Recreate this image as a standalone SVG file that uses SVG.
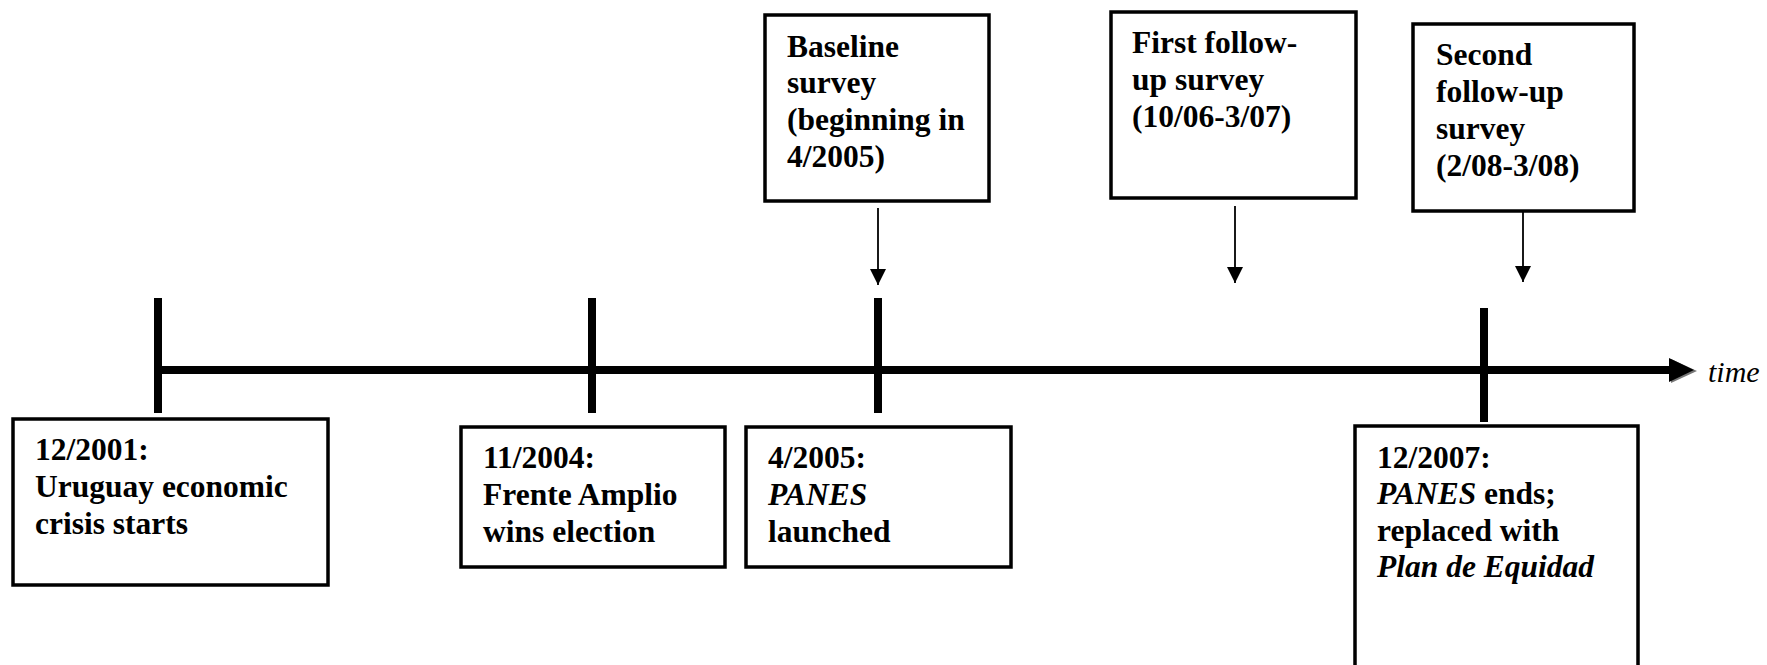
<svg xmlns="http://www.w3.org/2000/svg" width="1767" height="665" viewBox="0 0 1767 665">
<style>
  .box { fill: #fff; stroke: #000; stroke-width: 3.5; }
  .t { font-family: "Liberation Serif", "Times New Roman", serif; font-size: 31.5px; font-weight: bold; fill: #000; }
  .i { font-style: italic; }
  .tick { stroke: #000; stroke-width: 8; }
  .arr { stroke: #000; stroke-width: 1.8; fill: none; }
  .time { font-family: "Liberation Serif", "Times New Roman", serif; font-size: 30px; font-style: italic; fill: #000; }
</style>
<defs>
  <marker id="ah" markerUnits="userSpaceOnUse" markerWidth="18" markerHeight="18" refX="16" refY="8" orient="auto">
    <path d="M0,0 L16,8 L0,16 Z" fill="#000"/>
  </marker>
</defs>
<rect width="1767" height="665" fill="#fff"/>

<g id="connectors">
  <line x1="158" y1="370" x2="1672" y2="370" stroke="#000" stroke-width="8"/>
  <polygon points="1671,359 1697,371 1671,383" fill="#777"/>
  <polygon points="1669,358 1694,370 1669,382" fill="#000"/>
  <line class="tick" x1="158" y1="298" x2="158" y2="413"/>
  <line class="tick" x1="592" y1="298" x2="592" y2="413"/>
  <line class="tick" x1="878" y1="298" x2="878" y2="413"/>
  <line class="tick" x1="1484" y1="308" x2="1484" y2="422"/>
  <line class="arr" x1="878" y1="208" x2="878" y2="285" marker-end="url(#ah)"/>
  <line class="arr" x1="1235" y1="206" x2="1235" y2="283" marker-end="url(#ah)"/>
  <line class="arr" x1="1523" y1="206" x2="1523" y2="282" marker-end="url(#ah)"/>
</g>
<text class="time" x="1708" y="382">time</text>

<g id="n2001">
  <rect class="box" x="13" y="419" width="315" height="166"/>
  <text class="t" x="35" y="460">12/2001:</text>
  <text class="t" x="35" y="497">Uruguay economic</text>
  <text class="t" x="35" y="534">crisis starts</text>
</g>

<g id="n2004">
  <rect class="box" x="461" y="427" width="264" height="140"/>
  <text class="t" x="483" y="468">11/2004:</text>
  <text class="t" x="483" y="505">Frente Amplio</text>
  <text class="t" x="483" y="542">wins election</text>
</g>

<g id="n2005">
  <rect class="box" x="746" y="427" width="265" height="140"/>
  <text class="t" x="768" y="468">4/2005:</text>
  <text class="t i" x="768" y="505">PANES</text>
  <text class="t" x="768" y="542">launched</text>
</g>

<g id="n2007">
  <rect class="box" x="1355" y="426" width="283" height="260"/>
  <text class="t" x="1377" y="468">12/2007:</text>
  <text class="t" x="1377" y="504"><tspan class="i">PANES</tspan> ends;</text>
  <text class="t" x="1377" y="541">replaced with</text>
  <text class="t i" x="1377" y="577">Plan de Equidad</text>
</g>

<g id="baseline">
  <rect class="box" x="765" y="15" width="224" height="186"/>
  <text class="t" x="787" y="57">Baseline</text>
  <text class="t" x="787" y="93">survey</text>
  <text class="t" x="787" y="130">(beginning in</text>
  <text class="t" x="787" y="167">4/2005)</text>
</g>

<g id="followup1">
  <rect class="box" x="1111" y="12" width="245" height="186"/>
  <text class="t" x="1132" y="53">First follow-</text>
  <text class="t" x="1132" y="90">up survey</text>
  <text class="t" x="1132" y="127">(10/06-3/07)</text>
</g>

<g id="followup2">
  <rect class="box" x="1413" y="24" width="221" height="187"/>
  <text class="t" x="1436" y="65">Second</text>
  <text class="t" x="1436" y="102">follow-up</text>
  <text class="t" x="1436" y="139">survey</text>
  <text class="t" x="1436" y="176">(2/08-3/08)</text>
</g>
</svg>
